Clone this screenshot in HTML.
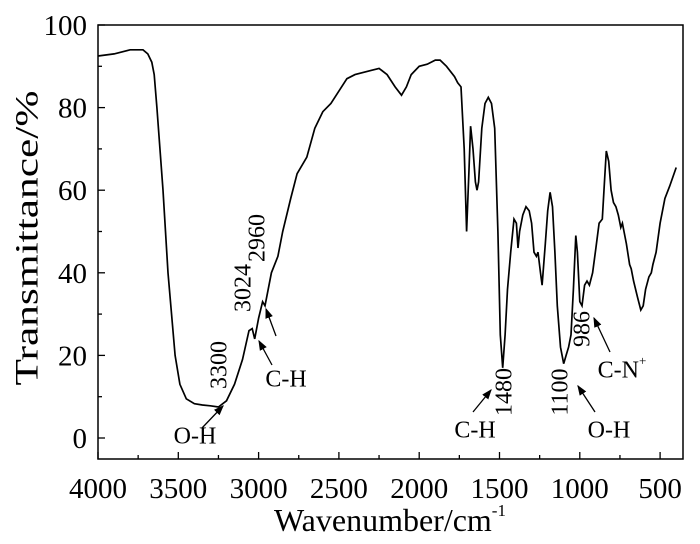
<!DOCTYPE html>
<html><head><meta charset="utf-8"><style>
html,body{margin:0;padding:0;background:#fff;}
svg{display:block;font-family:"Liberation Serif",serif;}
</style></head><body>
<svg id="chart" width="700" height="544" viewBox="0 0 700 544">
<defs><marker id="ah" markerWidth="8" markerHeight="8" refX="7" refY="4" orient="auto"><path d="M0,1 L8,4 L0,7 z" fill="#000"/></marker></defs>
<g id="axes"></g>
<path id="curve" fill="none" stroke="#000" stroke-width="1.7"/>
<g id="ann"></g>
<text x="30" y="238" font-size="33" text-anchor="middle" textLength="295" lengthAdjust="spacingAndGlyphs" transform="rotate(-90 30 238)" dominant-baseline="middle">Transmittance/%</text>
<text x="390" y="531" font-size="32" text-anchor="middle">Wavenumber/cm<tspan font-size="17" dy="-15">-1</tspan></text>
</svg>
<script>
const wavenumbers=[4000,3900,3800,3720,3690,3665,3650,3633,3595,3564,3520,3490,3450,3400,3350,3300,3250,3200,3150,3100,3060,3040,3024,3000,2975,2960,2940,2920,2880,2850,2800,2760,2700,2650,2600,2550,2500,2450,2400,2300,2250,2200,2150,2110,2080,2050,2000,1950,1900,1870,1830,1780,1760,1740,1720,1705,1690,1680,1665,1650,1640,1630,1610,1590,1570,1550,1530,1510,1495,1480,1465,1450,1430,1410,1395,1385,1375,1355,1335,1315,1300,1285,1270,1260,1245,1235,1215,1200,1185,1170,1155,1140,1120,1100,1085,1070,1055,1040,1025,1015,1000,986,970,955,940,920,900,880,860,845,835,820,805,790,775,760,745,735,725,710,690,680,665,640,620,605,590,570,555,545,525,500,470,440,400];
const transmittance=[92.5,93,94,94,93,91,88,80,60,40,20,13,9.5,8.3,8,7.8,7.5,9,13,19,26,26.5,24,29,33,32,36,40,44,50,58,64,68,75,79,81,84,87,88,89,89.5,88,85,83,85,88,90,90.5,91.5,91.5,90,87.5,86,85,70,50,65,75.5,70,62,60,62,75,81,82.5,81,75,50,25,17,25,36,45,53,52,46,50,54,56,55,52,45,44,45,40,37,47,55,59.5,56,45,32,22,18,20,22,25,36,49,45,33,32,37,38,37,40,46,52,53,63,69.5,67,60,57,56,54,51,52,50,47,42,41,38,34,31,32,36,39,40,42,45,52,58,61,65.5];
const xTicks=[4000,3500,3000,2500,2000,1500,1000,500];
const yTicks=[0,20,40,60,80,100];
const L=98,R=683,T=25,B=459;
const X=w=>L+(4000-w)*0.1606;
const Y=t=>438-t*4.13;
const NS="http://www.w3.org/2000/svg";
function mk(tag,attrs,parent){const e=document.createElementNS(NS,tag);for(const k in attrs)e.setAttribute(k,attrs[k]);parent.appendChild(e);return e;}
const ax=document.getElementById('axes');
const frame=mk('rect',{x:L,y:T,width:R-L,height:B-T,fill:'none',stroke:'#000','stroke-width':1.5},ax);


for(let w=4000;w>=400;w-=250){const major=w%500===0;const t=mk('line',{x1:X(w),x2:X(w),y1:B,y2:B-(major?7:4),stroke:'#000','stroke-width':1.3},ax);

}
xTicks.forEach(w=>{const t=mk('text',{x:X(w),y:498,'font-size':29,'text-anchor':'middle'},ax);t.textContent=w;

});
for(let v=0;v<=100;v+=10){if(Y(v)<T)continue;const major=v%20===0;const t=mk('line',{x1:L,x2:L+(major?7:4),y1:Y(v),y2:Y(v),stroke:'#000','stroke-width':1.3},ax);

}
yTicks.forEach(v=>{const t=mk('text',{x:87,y:Y(v)+10,'font-size':29,'text-anchor':'end'},ax);t.textContent=v;

});
document.getElementById('curve').setAttribute('d',wavenumbers.map((w,i)=>(i?'L':'M')+X(w).toFixed(1)+','+Y(transmittance[i]).toFixed(1)).join(''));
const an=document.getElementById('ann');
function txt(s,x,y,size,rot,name){const t=mk('text',{x:x,y:y,'font-size':size,'text-anchor':'middle','dominant-baseline':'middle'},an);if(rot)t.setAttribute('transform','rotate(-90 '+x+' '+y+')');t.textContent=s;

return t;}
function arr(x1,y1,x2,y2,name){const a=mk('line',{x1:x1,y1:y1,x2:x2,y2:y2,stroke:'#000','stroke-width':1.3,'marker-end':'url(#ah)'},an);

}
txt('3300',221,365,24,true,'label-3300');
txt('3024',245,288,24,true,'label-3024');
txt('2960',259,238,24,true,'label-2960');
txt('O-H',195,438,24,false,'label-oh-3300');
arr(202,428,223,406,'arrow-oh-3300');
txt('C-H',286,381,24,false,'label-ch-3024');
arr(272,365,259,341,'arrow-ch-3024');
arr(276,336,266,309,'arrow-ch-2960');
txt('C-H',475,432,24,false,'label-ch-1480');
arr(473,412,491,390,'arrow-ch-1480');
txt('1480',506,392,24,true,'label-1480');
txt('1100',562,392,24,true,'label-1100');
txt('O-H',609,432,24,false,'label-oh-1100');
arr(595,412,578,386,'arrow-oh-1100');
txt('986',584,329,24,true,'label-986');
const cn=txt('C-N',622,372,24,false,'label-cn');
const sup=document.createElementNS(NS,'tspan');sup.setAttribute('font-size','13');sup.setAttribute('dy','-10');sup.textContent='+';cn.appendChild(sup);
arr(610,352,594,318,'arrow-cn-986');
</script>
</body></html>
